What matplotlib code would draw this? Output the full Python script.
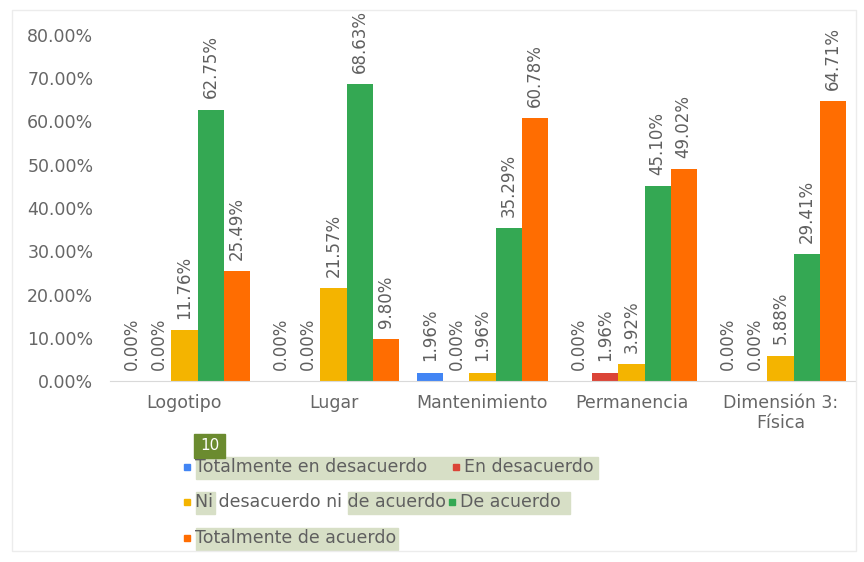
import numpy as np
import matplotlib.pyplot as plt
from matplotlib.patches import Rectangle

# Survey results per indicator (percent of respondents)
categories = ['Logotipo', 'Lugar', 'Mantenimiento', 'Permanencia', 'Dimensión 3:\nFísica']
series_names = ['Totalmente en desacuerdo', 'En desacuerdo', 'Ni desacuerdo ni de acuerdo',
                'De acuerdo', 'Totalmente de acuerdo']
tot_desacuerdo = [0.00, 0.00, 1.96, 0.00, 0.00]
en_desacuerdo = [0.00, 0.00, 0.00, 1.96, 0.00]
ni_ni = [11.76, 21.57, 1.96, 3.92, 5.88]
de_acuerdo = [62.75, 68.63, 35.29, 45.10, 29.41]
tot_acuerdo = [25.49, 9.80, 60.78, 49.02, 64.71]
y_ticks = [0, 10, 20, 30, 40, 50, 60, 70, 80]

series = [tot_desacuerdo, en_desacuerdo, ni_ni, de_acuerdo, tot_acuerdo]
colors = ['#4285F4', '#DB4437', '#F4B400', '#34A853', '#FF6D01']

fig = plt.figure(figsize=(8.64, 5.62), dpi=100)
W, H = 864, 562

# faint frame round the whole chart
fig.patches.append(Rectangle((12 / W, 1 - 551 / H), 844 / W, 541 / H,
                             transform=fig.transFigure, fill=False,
                             edgecolor='#ececec', lw=1.0))

ax = fig.add_axes([110 / W, 1 - 381 / H, 745 / W, 346 / H])

x = np.arange(len(categories))
bw = 0.175
for i, (vals, c) in enumerate(zip(series, colors)):
    pos = x + (i - 2) * bw
    ax.bar(pos, vals, width=bw, color=c, zorder=2)
    for px, v in zip(pos, vals):
        ax.annotate(f'{v:.2f}%', (px, v), xytext=(0, 8), textcoords='offset points',
                    rotation=90, ha='center', va='bottom', fontsize=12,
                    color='#5f5f5f', annotation_clip=False)

ax.set_xlim(-0.5, len(categories) - 0.5)
ax.set_ylim(0, 80)
ax.set_yticks(y_ticks)
ax.set_yticklabels([f'{t:.2f}%' for t in y_ticks])
ax.set_xticks(x)
ax.set_xticklabels(categories, linespacing=1.2)

for s in ['top', 'right', 'left']:
    ax.spines[s].set_visible(False)
ax.spines['bottom'].set_color('#d9d9d9')
ax.tick_params(axis='both', length=0, colors='#666666', labelsize=12.5)
ax.tick_params(axis='y', pad=12)
ax.tick_params(axis='x', pad=9)

# legend drawn by hand, with highlighted text
hl = '#d7dfc6'
highlights = [(196, 457, 402, 22), (196, 492, 19, 22), (348, 492, 222, 22), (196, 528, 202, 22)]
for hx, hy, hw, hh in highlights:
    fig.patches.append(Rectangle((hx / W, 1 - (hy + hh) / H), hw / W, hh / H,
                                 transform=fig.transFigure, color=hl, zorder=0))

legend_items = [
    (187, 467, series_names[0], colors[0]),
    (456, 467, series_names[1], colors[1]),
    (187, 502, series_names[2], colors[2]),
    (452, 502, series_names[3], colors[3]),
    (187, 538, series_names[4], colors[4]),
]
for lx, ly, label, c in legend_items:
    fig.patches.append(Rectangle(((lx - 3) / W, 1 - (ly + 3) / H), 6 / W, 6 / H,
                                 transform=fig.transFigure, color=c, zorder=3))
    fig.text((lx + 8) / W, 1 - ly / H, label, fontsize=12.5, color='#5f5f5f',
             va='center', ha='left', zorder=4)

# page number badge
fig.patches.append(Rectangle((194 / W, 1 - 458 / H), 31 / W, 24 / H,
                             transform=fig.transFigure, color='#6b8b2f', zorder=3))
fig.text(209.5 / W, 1 - 446 / H, '10', fontsize=11, color='white',
         ha='center', va='center', zorder=4)

plt.savefig('out.png', dpi=100)
